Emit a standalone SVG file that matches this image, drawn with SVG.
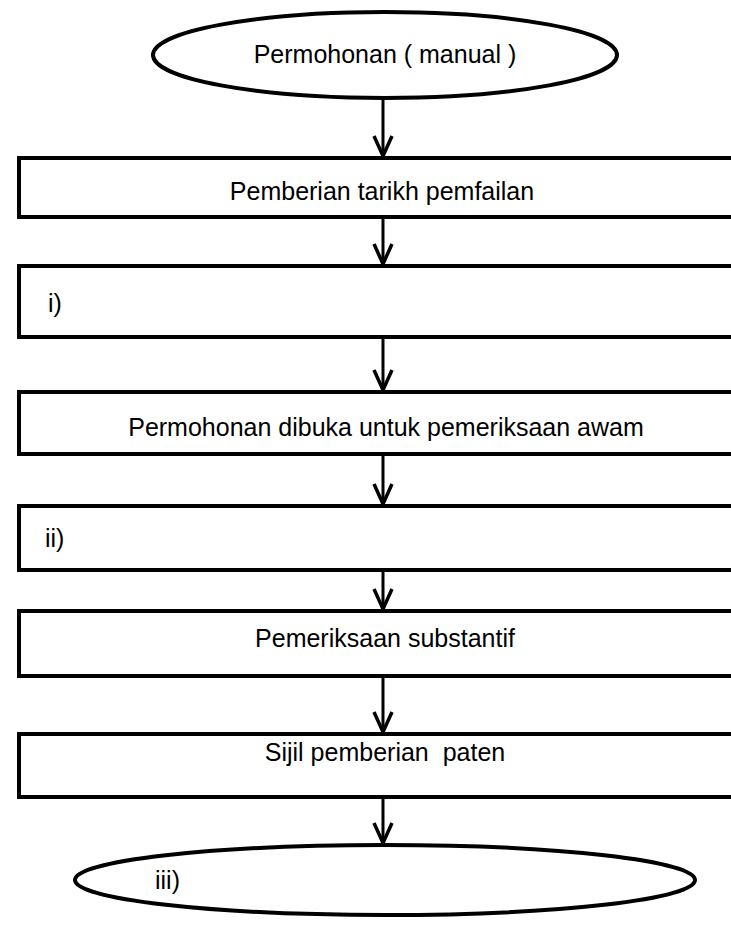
<svg xmlns="http://www.w3.org/2000/svg" width="731" height="933" viewBox="0 0 731 933">
<style>
.node rect, .node ellipse { fill: #fff; stroke: #000; stroke-width: 4; }
.node text { font-family: "Liberation Sans", Arial, sans-serif; font-size: 25px; fill: #000; }
.c { text-anchor: middle; }
#connectors path { fill: none; stroke: #000; stroke-width: 3; marker-end: url(#ah); }
</style>
<defs>
<marker id="ah" markerUnits="userSpaceOnUse" viewBox="-25 -15 30 30" markerWidth="30" markerHeight="30" refX="0" refY="0" orient="auto" overflow="visible">
<path d="M -20 -9 L 0 0 L -20 9" fill="none" stroke="#000" stroke-width="3.5"/>
</marker>
</defs>
<rect width="731" height="933" fill="#fff"/>
<g id="connectors">
<path d="M 383 98 L 383 156"/>
<path d="M 383 219 L 383 264"/>
<path d="M 383 339 L 383 390"/>
<path d="M 383 456 L 383 504"/>
<path d="M 383 572 L 383 609"/>
<path d="M 383 678 L 383 732"/>
<path d="M 383 799 L 383 843"/>
</g>
<g id="n0" class="node">
<ellipse cx="385" cy="55" rx="232" ry="43"/>
<text class="c" x="385" y="63">Permohonan ( manual )</text>
</g>
<g id="n1" class="node">
<rect x="19" y="158" width="740" height="59"/>
<text class="c" x="382" y="200">Pemberian tarikh pemfailan</text>
</g>
<g id="n2" class="node">
<rect x="19" y="266" width="740" height="71"/>
<text x="48" y="312">i)</text>
</g>
<g id="n3" class="node">
<rect x="19" y="392" width="740" height="62"/>
<text class="c" x="386" y="436">Permohonan dibuka untuk pemeriksaan awam</text>
</g>
<g id="n4" class="node">
<rect x="19" y="506" width="740" height="64"/>
<text x="45" y="547">ii)</text>
</g>
<g id="n5" class="node">
<rect x="19" y="611" width="740" height="65"/>
<text class="c" x="385" y="647">Pemeriksaan substantif</text>
</g>
<g id="n6" class="node">
<rect x="19" y="734" width="740" height="63"/>
<text class="c" x="385" y="761" xml:space="preserve">Sijil pemberian  paten</text>
</g>
<g id="n7" class="node">
<ellipse cx="385" cy="880" rx="310" ry="35"/>
<text x="155" y="889">iii)</text>
</g>
</svg>
